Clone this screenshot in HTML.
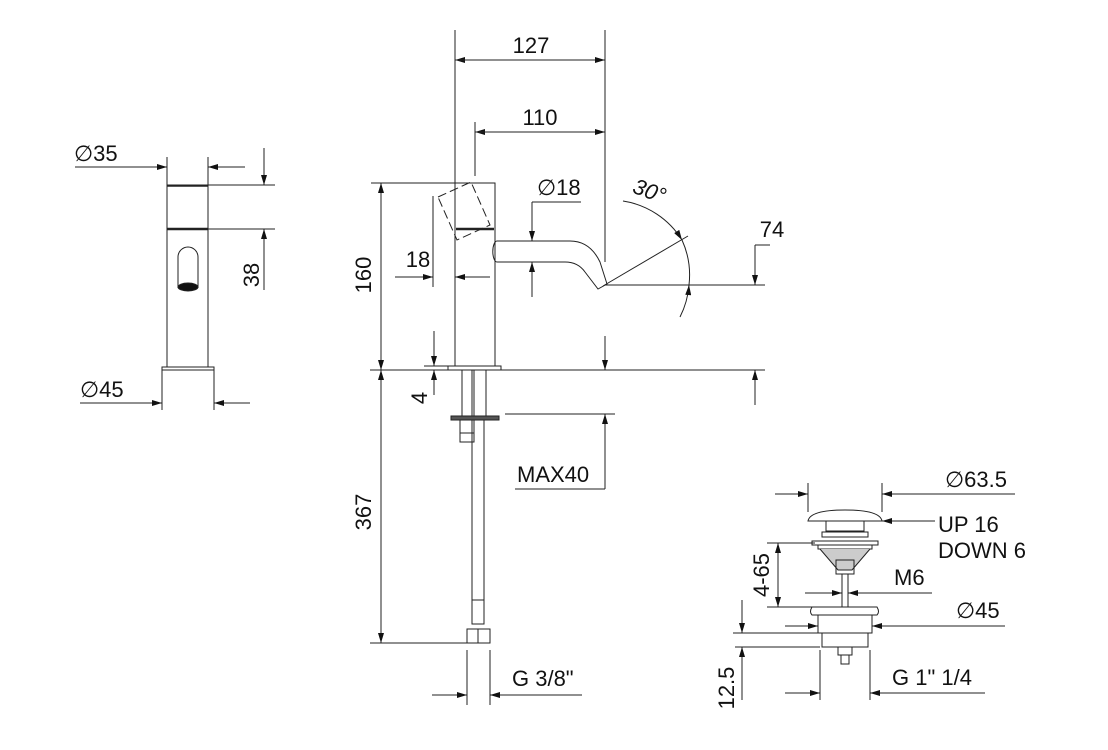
<!DOCTYPE html>
<html><head><style>
html,body{margin:0;padding:0;background:#fff;}
svg{display:block;}
text{font-family:"Liberation Sans",sans-serif;font-size:22px;fill:#111;}
</style></head><body>
<svg width="1108" height="750" viewBox="0 0 1108 750" xmlns="http://www.w3.org/2000/svg">
<defs>
<marker id="a" viewBox="0 0 10 6" refX="10" refY="3" markerWidth="14" markerHeight="6" markerUnits="userSpaceOnUse" orient="auto"><path d="M0,0L10,3L0,6z" fill="#111"/></marker>
</defs>
<g stroke="#222" stroke-width="1" fill="none">
<!-- LEFT VIEW -->
<rect x="167" y="185" width="41" height="182"/>
<line x1="167" y1="229" x2="208" y2="229" stroke-width="2.5"/>
<line x1="167" y1="186" x2="208" y2="186" stroke-width="1.5"/>
<rect x="162" y="367" width="52" height="3"/>
<line x1="162" y1="370" x2="162" y2="410"/><line x1="214" y1="370" x2="214" y2="410"/>
<path d="M178,288 V257 A10,10 0 0 1 198,257 V288"/>
<ellipse cx="188" cy="287" rx="10" ry="4" fill="#111"/>
<line x1="167" y1="157" x2="167" y2="185"/><line x1="208" y1="157" x2="208" y2="185"/>
<line x1="75" y1="167" x2="167" y2="167" marker-end="url(#a)"/>
<line x1="245" y1="167" x2="208" y2="167" marker-end="url(#a)"/>
<line x1="208" y1="185" x2="275" y2="185"/><line x1="208" y1="229" x2="275" y2="229"/>
<line x1="264" y1="148" x2="264" y2="185" marker-end="url(#a)"/>
<line x1="264" y1="290" x2="264" y2="229" marker-end="url(#a)"/>
<line x1="80" y1="403" x2="162" y2="403" marker-end="url(#a)"/>
<line x1="250" y1="403" x2="214" y2="403" marker-end="url(#a)"/>

<!-- MAIN VIEW -->
<rect x="455" y="183" width="40" height="183"/>
<line x1="456" y1="229" x2="494" y2="229" stroke-width="2.5"/>
<rect x="448" y="366" width="53" height="4"/>
<path d="M438,197 L471,182 L490,225 L457,240 Z" stroke-dasharray="9,4"/>
<path d="M497,241 H570 Q590,241 600,262 L607,284 L598,289 L585,272 Q578,262 565,262 H497 A4,10 0 0 1 497,241"/>
<line x1="462" y1="370" x2="462" y2="418"/><line x1="472" y1="370" x2="472" y2="418"/><line x1="474" y1="370" x2="474" y2="418"/><line x1="486" y1="370" x2="486" y2="418"/>
<rect x="451" y="416" width="48" height="4" fill="#555"/>
<rect x="460" y="420" width="14" height="22"/>
<line x1="460" y1="433" x2="474" y2="433"/>
<line x1="472" y1="420" x2="472" y2="600"/><line x1="484" y1="420" x2="484" y2="600"/>
<rect x="472" y="600" width="12" height="24"/>
<rect x="467" y="629" width="23" height="14"/>
<line x1="478" y1="629" x2="478" y2="643"/>
<line x1="455" y1="30" x2="455" y2="183"/><line x1="605" y1="30" x2="605" y2="262"/>
<line x1="605" y1="60" x2="455" y2="60" marker-end="url(#a)"/><line x1="455" y1="60" x2="605" y2="60" marker-end="url(#a)"/>
<line x1="475" y1="122" x2="475" y2="176"/>
<line x1="605" y1="132" x2="475" y2="132" marker-end="url(#a)"/><line x1="475" y1="132" x2="605" y2="132" marker-end="url(#a)"/>
<line x1="371" y1="183" x2="455" y2="183"/>
<line x1="381" y1="275" x2="381" y2="183" marker-end="url(#a)"/><line x1="381" y1="275" x2="381" y2="370" marker-end="url(#a)"/>
<line x1="370" y1="370" x2="765" y2="370"/>
<line x1="433" y1="196" x2="433" y2="287"/>
<line x1="395" y1="277" x2="433" y2="277" marker-end="url(#a)"/><line x1="490" y1="277" x2="455" y2="277" marker-end="url(#a)"/>
<line x1="434" y1="331" x2="434" y2="366" marker-end="url(#a)"/><line x1="434" y1="395" x2="434" y2="370" marker-end="url(#a)"/>
<line x1="424" y1="366" x2="448" y2="366"/>
<line x1="581" y1="202" x2="532" y2="202"/>
<line x1="532" y1="202" x2="532" y2="241" marker-end="url(#a)"/><line x1="532" y1="297" x2="532" y2="262" marker-end="url(#a)"/>
<line x1="605" y1="285" x2="765" y2="285"/>
<line x1="603" y1="286" x2="688" y2="236"/>
<path d="M623,201 A85,85 0 0 1 682,240" marker-end="url(#a)"/>
<path d="M680,317 A85,85 0 0 0 689,285" marker-end="url(#a)"/>
<path d="M682,240 A85,85 0 0 1 689,285"/>
<line x1="755" y1="245" x2="770" y2="245"/>
<line x1="755" y1="245" x2="755" y2="285" marker-end="url(#a)"/><line x1="755" y1="405" x2="755" y2="370" marker-end="url(#a)"/>
<line x1="605" y1="336" x2="605" y2="370" marker-end="url(#a)"/>
<line x1="505" y1="414" x2="615" y2="414"/>
<line x1="605" y1="489" x2="605" y2="414" marker-end="url(#a)"/>
<line x1="515" y1="489" x2="605" y2="489"/>
<line x1="381" y1="500" x2="381" y2="370" marker-end="url(#a)"/><line x1="381" y1="500" x2="381" y2="643" marker-end="url(#a)"/>
<line x1="370" y1="643" x2="467" y2="643"/>
<line x1="467" y1="650" x2="467" y2="705"/><line x1="490" y1="650" x2="490" y2="705"/>
<line x1="432" y1="695" x2="467" y2="695" marker-end="url(#a)"/><line x1="582" y1="695" x2="490" y2="695" marker-end="url(#a)"/>

<!-- DRAIN -->
<path d="M808,521 Q810,510 845,510 Q880,510 882,521 Z"/>
<rect x="826" y="521" width="38" height="10"/>
<rect x="822" y="532" width="46" height="5"/>
<rect x="812" y="541" width="66" height="4"/>
<rect x="818" y="545" width="54" height="4"/>
<path d="M820,549 L838,570 H852 L870,549" fill="#ccc"/>
<rect x="836" y="560" width="18" height="14"/>
<rect x="842" y="574" width="6" height="33"/>
<path d="M812,607 H877 Q880,612 877,615 H812 Q809,612 812,607 Z"/>
<rect x="818" y="615" width="54" height="18"/>
<rect x="822" y="633" width="46" height="14"/>
<rect x="838" y="647" width="14" height="8"/><rect x="841" y="655" width="8" height="9"/>
<line x1="808" y1="483" x2="808" y2="512"/><line x1="882" y1="483" x2="882" y2="512"/>
<line x1="775" y1="494" x2="808" y2="494" marker-end="url(#a)"/><line x1="1015" y1="494" x2="882" y2="494" marker-end="url(#a)"/>
<line x1="935" y1="521" x2="882" y2="521" marker-end="url(#a)"/>
<line x1="767" y1="543" x2="815" y2="543"/><line x1="767" y1="607" x2="820" y2="607"/>
<line x1="778" y1="575" x2="778" y2="543" marker-end="url(#a)"/><line x1="778" y1="575" x2="778" y2="607" marker-end="url(#a)"/>
<line x1="805" y1="593" x2="842" y2="593" marker-end="url(#a)"/><line x1="932" y1="593" x2="848" y2="593" marker-end="url(#a)"/>
<line x1="785" y1="626" x2="818" y2="626" marker-end="url(#a)"/><line x1="1005" y1="626" x2="872" y2="626" marker-end="url(#a)"/>
<line x1="733" y1="633" x2="820" y2="633"/><line x1="735" y1="647" x2="820" y2="647"/>
<line x1="742" y1="600" x2="742" y2="633" marker-end="url(#a)"/><line x1="742" y1="700" x2="742" y2="647" marker-end="url(#a)"/>
<line x1="820" y1="650" x2="820" y2="700"/><line x1="870" y1="650" x2="870" y2="700"/>
<line x1="785" y1="693" x2="820" y2="693" marker-end="url(#a)"/><line x1="985" y1="693" x2="870" y2="693" marker-end="url(#a)"/>
</g>
<text x="74" y="161">∅35</text>
<text x="263" y="275" transform="rotate(-90 263 275)" text-anchor="middle" dy="-4">38</text>
<text x="80" y="397">∅45</text>
<text x="531" y="53" text-anchor="middle">127</text>
<text x="540" y="125" text-anchor="middle">110</text>
<text x="537" y="195">∅18</text>
<text x="647" y="198" transform="rotate(20 647 198)" text-anchor="middle" font-style="italic">30°</text>
<text x="772" y="237" text-anchor="middle">74</text>
<text x="418" y="267" text-anchor="middle">18</text>
<text x="371" y="275" transform="rotate(-90 371 275)" text-anchor="middle">160</text>
<text x="427" y="398" transform="rotate(-90 427 398)" text-anchor="middle">4</text>
<text x="517" y="482">MAX40</text>
<text x="371" y="512" transform="rotate(-90 371 512)" text-anchor="middle">367</text>
<text x="512" y="686">G 3/8"</text>
<text x="945" y="487">∅63.5</text>
<text x="938" y="532">UP 16</text>
<text x="938" y="558">DOWN 6</text>
<text x="769" y="575" transform="rotate(-90 769 575)" text-anchor="middle">4-65</text>
<text x="894" y="585">M6</text>
<text x="956" y="618">∅45</text>
<text x="734" y="688" transform="rotate(-90 734 688)" text-anchor="middle">12.5</text>
<text x="892" y="685">G 1" 1/4</text>
</svg>
</body></html>
